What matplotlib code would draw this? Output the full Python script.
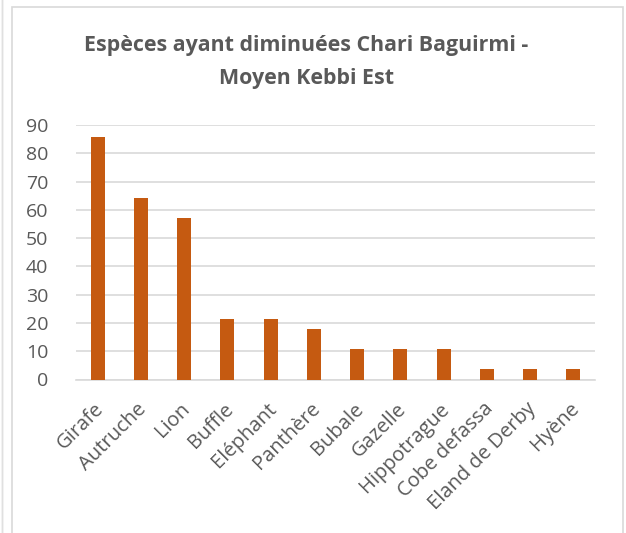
import matplotlib
matplotlib.use("Agg")
import matplotlib.pyplot as plt
from matplotlib.patches import Rectangle
from matplotlib.transforms import ScaledTranslation

categories = ["Girafe", "Autruche", "Lion", "Buffle", "Eléphant", "Panthère",
              "Bubale", "Gazelle", "Hippotrague", "Cobe defassa", "Eland de Derby", "Hyène"]
values = [85.7, 64.3, 57.1, 21.4, 21.4, 17.9, 10.7, 10.7, 10.7, 3.6, 3.6, 3.6]
yticks = [0, 10, 20, 30, 40, 50, 60, 70, 80, 90]
title = "Espèces ayant diminuées Chari Baguirmi -\nMoyen Kebbi Est"

plt.rcParams['font.family'] = ['Open Sans', 'DejaVu Sans']

W, H = 626, 533
fig = plt.figure(figsize=(W/100, H/100), dpi=100)
fig.patch.set_facecolor('white')

# chart border
fig.patches.append(Rectangle((12/W, -0.05), (623-12)/W, 1.05 - 7/H, transform=fig.transFigure,
                             fill=False, edgecolor='#d9d9d9', linewidth=1.2))
fig.patches.append(Rectangle((2/W, -0.05), 0, 1.1, transform=fig.transFigure,
                             fill=False, edgecolor='#e0e0e0', linewidth=1.0))

ax = fig.add_axes([76/W, 1-379.5/H, (595-76)/W, (379.5-125)/H])
x = range(len(categories))
ax.bar(x, values, width=0.32, color='#C55A11', zorder=3)
ax.set_xlim(-0.5, len(categories)-0.5)
ax.set_ylim(0, 90)
ax.set_yticks(yticks)
ax.set_yticklabels([str(t) for t in yticks], fontsize=14, color='#595959')
ax.set_xticks(list(x))
ax.set_xticklabels(categories, rotation=45, ha='right', va='top', rotation_mode='anchor',
                   fontsize=14.5, color='#595959')
ax.tick_params(axis='both', length=0)
ax.tick_params(axis='y', pad=20)
ax.tick_params(axis='x', pad=14)
shift = ScaledTranslation(-4/100, 0, fig.dpi_scale_trans)
for lbl in ax.get_xticklabels():
    lbl.set_transform(lbl.get_transform() + shift)
ax.grid(axis='y', color='#d9d9d9', linewidth=1.2, zorder=0)
for s in ['top', 'right', 'left']:
    ax.spines[s].set_visible(False)
ax.spines['bottom'].set_color('#d9d9d9')
ax.spines['bottom'].set_linewidth(1.2)

fig.text(306.5/W, 1 - 62/H, title, ha='center', va='center', fontsize=15.4,
         fontweight='bold', color='#595959', linespacing=1.75)

fig.savefig("out.png", dpi=100, facecolor='white')
